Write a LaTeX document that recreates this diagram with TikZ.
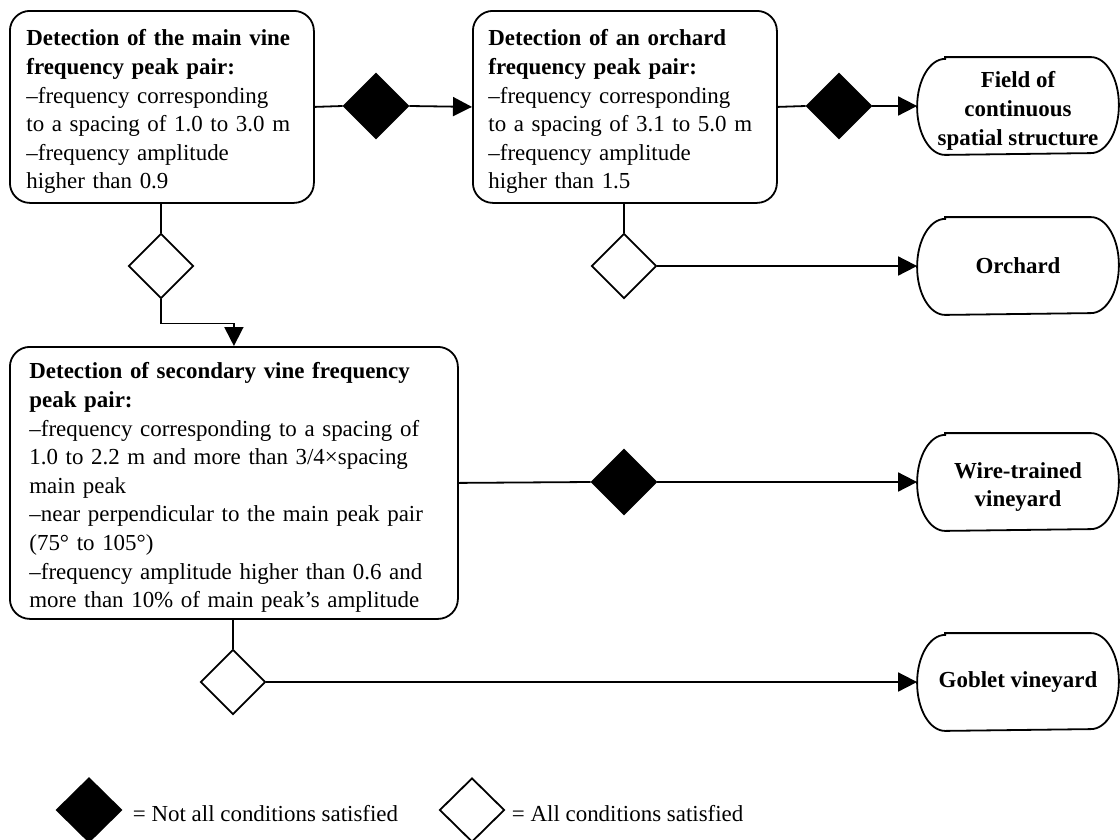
\documentclass[tikz,border=0pt]{standalone}
\usepackage{fontspec}
\setmainfont{Liberation Serif}
\usetikzlibrary{shapes.geometric,arrows.meta,calc}
\newlength{\px}
\setlength{\px}{0.75pt}
\newcommand{\diagfont}{\fontsize{17.2}{21.45}\selectfont}
% taller first line, so multi-line texts sit a little lower in their frames
\newcommand{\firstline}{\rule{0pt}{19.4pt}}
\begin{document}
\begin{tikzpicture}[x=0.75pt, y=-0.75pt,
  font=\diagfont,
  line width=1.8\px,
  condbox/.style={draw, rounded corners=20\px, align=left, anchor=north west, inner ysep=0pt},
  term/.style={minimum width=200\px, minimum height=96\px, align=center, inner sep=0pt, font=\diagfont\bfseries},
  nogo/.style={diamond, draw, fill=black, minimum width=65\px, minimum height=65\px, inner sep=0pt},
  go/.style={diamond, draw, fill=white, minimum width=65\px, minimum height=65\px, inner sep=0pt},
  flow/.style={-{Triangle[length=14.25pt, width=14.25pt]}}]

\useasboundingbox (0,0) rectangle (1120,839);

% condition boxes
\node[condbox, minimum width=304\px, minimum height=192\px, inner xsep=16\px, text width=271\px] (b1) at (9,10)
  {\firstline\textbf{Detection of the main vine}\\
   \textbf{frequency peak pair:}\\
   –frequency corresponding\\
   to a spacing of 1.0 to 3.0 m\\
   –frequency amplitude\\
   higher than 0.9};

\node[condbox, minimum width=304\px, minimum height=192\px, inner xsep=15\px, text width=273\px] (b2) at (472,10)
  {\firstline\textbf{Detection of an orchard}\\
   \textbf{frequency peak pair:}\\
   –frequency corresponding\\
   to a spacing of 3.1 to 5.0 m\\
   –frequency amplitude\\
   higher than 1.5};

\node[condbox, minimum width=448\px, minimum height=272\px, inner xsep=19\px, text width=409\px] (b3) at (9,346)
  {\firstline\textbf{Detection of secondary vine frequency}\\
   \textbf{peak pair:}\\
   –frequency corresponding to a spacing of\\
   1.0 to 2.2 m and more than 3/4×spacing\\
   main peak\\
   –near perpendicular to the main peak pair\\
   (75° to 105°)\\
   –frequency amplitude higher than 0.6 and\\
   more than 10\% of main peak’s amplitude};

% decision diamonds
\node[nogo] (d1) at (376,106) {};
\node[nogo] (d2) at (839,106) {};
\node[go]   (w1) at (161,266) {};
\node[go]   (w2) at (624,266) {};
\node[nogo] (d3) at (624,482) {};
\node[go]   (w3) at (233,682) {};

% outcomes
\node[term] (t1) at (1018,106) {\firstline Field of\\continuous\\spatial structure};
\node[term] (t2) at (1018,266) {Orchard};
\node[term] (t3) at (1018,482) {\firstline Wire-trained\\vineyard};
\node[term] (t4) at (1018,682) {Goblet vineyard};

\foreach \n in {t1,t2,t3,t4}
  \draw ([xshift=28\px]\n.north west) -- ([xshift=-28\px]\n.north east)
        arc[start angle=90, end angle=-90, x radius=21pt, y radius=36pt]
        -- ([xshift=28\px]\n.south west)
        arc[start angle=270, end angle=90, x radius=21pt, y radius=36pt] -- cycle;

% connectors
\draw (b1.east) -- (d1.west);
\draw[flow] (d1.east) -- (b2.west);
\draw (b2.east) -- (d2.west);
\draw[flow] (d2.east) -- (t1.west);
\draw (w1.north |- b1.south) -- (w1.north);
\draw[flow] (w1.south) -- ++(0,24) -| (b3.north);
\draw (w2.north |- b2.south) -- (w2.north);
\draw[flow] (w2.east) -- (t2.west);
\draw (b3.east) -- (d3.west);
\draw[flow] (d3.east) -- (t3.west);
\draw (w3.north |- b3.south) -- (w3.north);
\draw[flow] (w3.east) -- (t4.west);

% legend
\node[nogo, minimum height=64\px] (k1) at (89,810) {};
\node[anchor=base west, inner sep=0pt] (k1t) at (132,821) {= Not all conditions satisfied};
\node[go, minimum height=64\px] (k2) at (472,810) {};
\node[anchor=base west, inner sep=0pt] (k2t) at (511,821) {= All conditions satisfied};
\end{tikzpicture}
\end{document}
